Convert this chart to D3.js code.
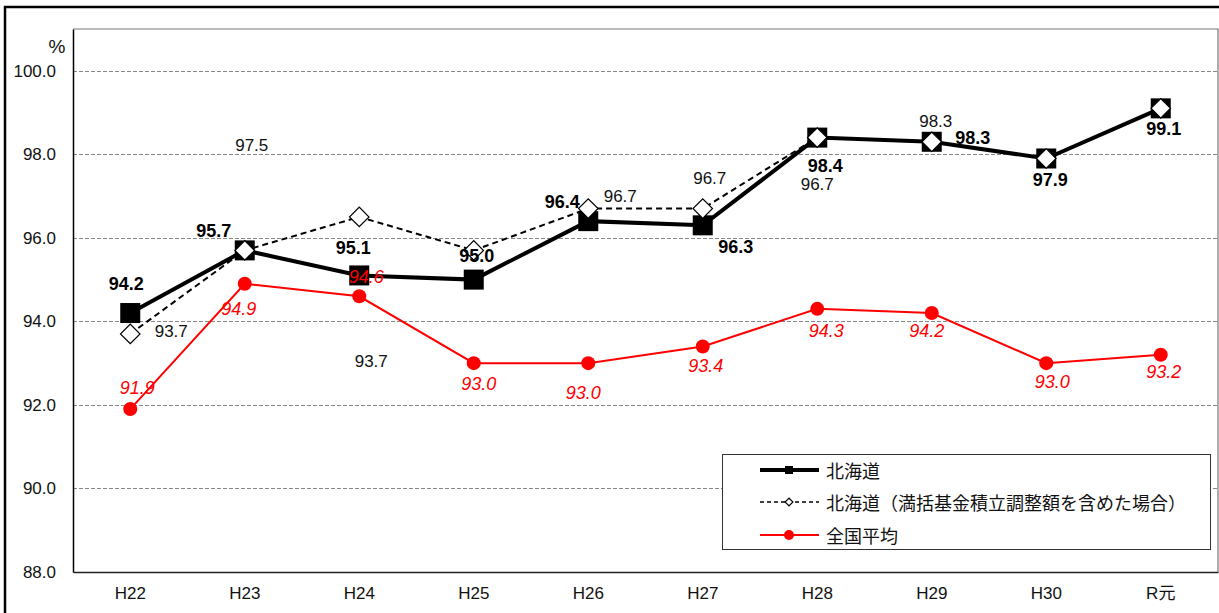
<!DOCTYPE html>
<html><head><meta charset="utf-8">
<script src="https://cdn.jsdelivr.net/npm/d3@7"></script>
<style>
body{margin:0;background:#fff;}
svg text{font-family:"Liberation Sans",Arial,"Noto Sans CJK JP",sans-serif;}
</style></head>
<body><svg id="c" width="1219" height="613"></svg>
<script>
// ---- data ----
const categories = ["H22","H23","H24","H25","H26","H27","H28","H29","H30","R元"];
const hokkaido = [94.2,95.7,95.1,95.0,96.4,96.3,98.4,98.3,97.9,99.1];
const hokkaidoAdj = [93.7,95.7,96.5,95.7,96.7,96.7,98.4,98.3,97.9,99.1];
const national = [91.9,94.9,94.6,93.0,93.0,93.4,94.3,94.2,93.0,93.2];
// label texts as shown on the chart
const hokkaidoLabels = ["94.2","95.7","95.1","95.0","96.4","96.3","98.4","98.3","97.9","99.1"];
const hokkaidoAdjLabels = ["93.7","97.5","93.7","","96.7","96.7","96.7","98.3","",""];
const nationalLabels = ["91.9","94.9","94.6","93.0","93.0","93.4","94.3","94.2","93.0","93.2"];
const yTicks = [88,90,92,94,96,98,100];
const seriesNames = ["北海道","北海道（満括基金積立調整額を含めた場合）","全国平均"];

// ---- label offsets (styling) ----
const offHok = [[-4,-29],[-31,-19],[-6,-27],[3,-24],[-26,-19],[33,22],[8,28],[41,-4],[4,22],[3,21]];
const offAdj = [[41,-2],[7,-105],[12,145],[0,0],[32,-12],[7,-30],[0,47],[4,-20],[0,0],[0,0]];
const offNat = [[7,-21],[-6,25],[7,-19],[5,21],[-5,30],[3,20],[9,22],[-5,18],[6,19],[3,17]];

const svg = d3.select("#c");
const L=73, R=1218, T=29, B=572;

const x = d3.scaleBand().domain(categories).range([L,R]).padding(0);
const cx = d => x(d)+x.bandwidth()/2;
const y = d3.scaleLinear().domain([88,101]).range([B,T]);

// outer frame
svg.append("path").attr("d",`M5,613 L5,7 L1219,7`).attr("fill","none").attr("stroke","#000").attr("stroke-width",2.5);

// plot frame (top/right)
svg.append("path").attr("d",`M${L},${T} L${R},${T} L${R},${B}`).attr("fill","none").attr("stroke","#777").attr("stroke-width",1.2);

// gridlines
svg.append("g").selectAll("line").data(yTicks.filter(t=>t>88)).join("line")
  .attr("x1",L).attr("x2",R).attr("y1",d=>Math.round(y(d))+0.5).attr("y2",d=>Math.round(y(d))+0.5)
  .attr("stroke","#888").attr("stroke-width",1).attr("stroke-dasharray","4,2");

// axes
const yAxis = d3.axisLeft(y).tickValues(yTicks).tickFormat(d3.format(".1f")).tickSize(0).tickPadding(17);
const gy = svg.append("g").attr("transform",`translate(${L},0)`).call(yAxis);
gy.select(".domain").attr("stroke","#000").attr("stroke-width",1.5);
gy.selectAll("text").attr("font-size",17).attr("fill","#111");

const xAxis = d3.axisBottom(x).tickSize(0).tickPadding(15);
const gx = svg.append("g").attr("transform",`translate(0,${B})`).call(xAxis);
gx.select(".domain").attr("stroke","#222").attr("stroke-width",1.5);
gx.selectAll("text").attr("font-size",17).attr("fill","#111");

svg.append("text").attr("x",57).attr("y",46).attr("text-anchor","middle").attr("dominant-baseline","central")
  .attr("font-size",19).attr("fill","#111").text("%");

const line = d3.line().x((d,i)=>cx(categories[i])).y(d=>y(d));

// solid series
svg.append("path").datum(hokkaido).attr("d",line).attr("fill","none").attr("stroke","#000").attr("stroke-width",4);
svg.append("g").selectAll("rect").data(hokkaido).join("rect")
  .attr("x",(d,i)=>cx(categories[i])-10).attr("y",d=>y(d)-10).attr("width",20).attr("height",20).attr("fill","#000");

// dashed series
svg.append("path").datum(hokkaidoAdj).attr("d",line).attr("fill","none").attr("stroke","#000").attr("stroke-width",2).attr("stroke-dasharray","6,4");
svg.append("g").selectAll("path").data(hokkaidoAdj).join("path")
  .attr("transform",(d,i)=>`translate(${cx(categories[i])},${y(d)}) rotate(45)`)
  .attr("d",d3.symbol().type(d3.symbolSquare).size(190))
  .attr("fill","#fff").attr("stroke","#000").attr("stroke-width",1.2);

// national
svg.append("path").datum(national).attr("d",line).attr("fill","none").attr("stroke","#f00").attr("stroke-width",2);
svg.append("g").selectAll("circle").data(national).join("circle")
  .attr("cx",(d,i)=>cx(categories[i])).attr("cy",d=>y(d)).attr("r",7).attr("fill","#f00");

// labels
function labels(vals, texts, offs, style){
  svg.append("g").selectAll("text").data(vals).join("text")
    .attr("x",(d,i)=>cx(categories[i])+offs[i][0]).attr("y",(d,i)=>y(d)+offs[i][1])
    .attr("text-anchor","middle").attr("dominant-baseline","central")
    .attr("font-size",style.size)
    .attr("font-weight",style.weight).attr("font-style",style.italic?"italic":"normal").attr("fill",style.color)
    .text((d,i)=>texts[i]);
}
labels(hokkaidoAdj, hokkaidoAdjLabels, offAdj, {weight:"normal",color:"#111",size:17});
labels(hokkaido, hokkaidoLabels, offHok, {weight:"bold",color:"#000",size:18});
labels(national, nationalLabels, offNat, {weight:"normal",italic:true,color:"#f00",size:18});

// legend
const lg = svg.append("g");
lg.append("rect").attr("x",722.5).attr("y",454.5).attr("width",488).attr("height",95).attr("fill","#fff").attr("stroke","#333").attr("stroke-width",1);
const ly = [470,502,535];
// solid
lg.append("line").attr("x1",760).attr("x2",819).attr("y1",ly[0]).attr("y2",ly[0]).attr("stroke","#000").attr("stroke-width",4);
lg.append("rect").attr("x",785).attr("y",ly[0]-4).attr("width",8).attr("height",8).attr("fill","#000");
// dashed
lg.append("line").attr("x1",760).attr("x2",819).attr("y1",ly[1]).attr("y2",ly[1]).attr("stroke","#000").attr("stroke-width",1.5).attr("stroke-dasharray","4,3");
lg.append("path").attr("transform",`translate(789,${ly[1]}) rotate(45)`).attr("d",d3.symbol().type(d3.symbolSquare).size(30)).attr("fill","#fff").attr("stroke","#000").attr("stroke-width",1.2);
// national
lg.append("line").attr("x1",760).attr("x2",819).attr("y1",ly[2]).attr("y2",ly[2]).attr("stroke","#f00").attr("stroke-width",2);
lg.append("circle").attr("cx",789).attr("cy",ly[2]).attr("r",5).attr("fill","#f00");
lg.selectAll("text.t").data(seriesNames).join("text").attr("class","t")
  .attr("x",826).attr("y",(d,i)=>ly[i]).attr("dominant-baseline","central")
  .attr("font-size",18).attr("fill","#111")
  .style("font-family",'"Noto Sans CJK JP",sans-serif')
  .text(d=>d);
</script></body></html>
